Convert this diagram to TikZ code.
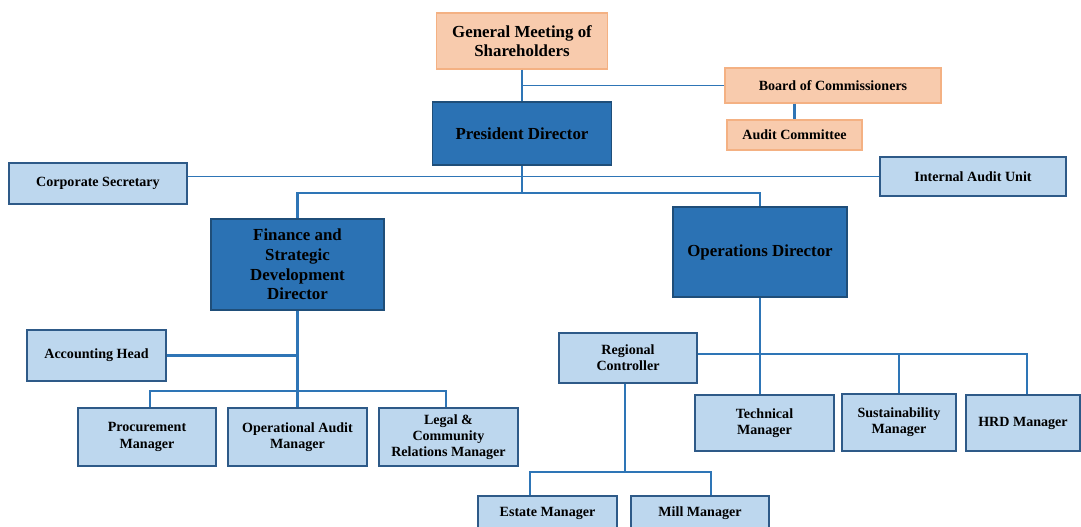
\documentclass[tikz,border=0pt]{standalone}
\usepackage{fontspec}
\setmainfont{Liberation Serif}
\usetikzlibrary{calc}
\definecolor{boxorange}{HTML}{F8CBAD}
\definecolor{boxorangeline}{HTML}{F4B183}
\definecolor{dirblue}{HTML}{2B72B4}
\definecolor{dirblueline}{HTML}{1F4E79}
\definecolor{unitblue}{HTML}{BDD7EE}
\definecolor{unitblueline}{HTML}{2E5A88}
\definecolor{linkblue}{HTML}{2E75B6}
\tikzset{
	bigtext/.style={font=\fontsize{12}{14}\selectfont\bfseries},
	smalltext/.style={font=\fontsize{10}{11.5}\selectfont\bfseries},
	topbox/.style={draw=boxorangeline, fill=boxorange, line width=0.8pt, align=center, inner sep=1pt},
	dirbox/.style={draw=dirblueline, fill=dirblue, line width=0.8pt, align=center, inner sep=1pt, bigtext},
	unitbox/.style={draw=unitblueline, fill=unitblue, line width=0.8pt, align=center, inner sep=1pt, smalltext},
	link/.style={draw=linkblue, line width=1.7pt},
	thinlink/.style={draw=linkblue, line width=1pt}
}

\begin{document}
\begin{tikzpicture}[x=0.025cm, y=-0.025cm]
		%%%%% START %%%%%
		\useasboundingbox (0, 0) rectangle (1081, 527);
		\begin{scope}
		\clip (0, 0) rectangle (1081, 527);
		
		\node[topbox, bigtext, minimum width=4.275cm, minimum height=1.4cm] (gms) at (522, 41) {General Meeting of\\Shareholders};
		\node[topbox, smalltext, minimum width=5.4cm, minimum height=0.875cm] (board) at (833, 85.5) {Board of Commissioners};
		\node[topbox, smalltext, minimum width=3.375cm, minimum height=0.75cm] (audit) at (794.5, 135) {Audit Committee};
		
		\node[dirbox, minimum width=4.475cm, minimum height=1.575cm] (pres) at (522, 133.5) {President Director};
		\node[unitbox, minimum width=4.45cm, minimum height=1.025cm] (corpsec) at (98, 183.5) {Corporate Secretary};
		\node[unitbox, minimum width=4.65cm, minimum height=0.975cm] (iau) at (973, 176.5) {Internal Audit Unit};
		
		\node[dirbox, minimum width=4.325cm, minimum height=2.275cm] (fin) at (297.5, 264.5) {Finance and\\Strategic\\Development\\Director};
		\node[dirbox, minimum width=4.35cm, minimum height=2.25cm] (ops) at (760, 252) {Operations Director};
		
		\node[unitbox, minimum width=3.475cm, minimum height=1.275cm] (acc) at (96.5, 355.5) {Accounting Head};
		\node[unitbox, minimum width=3.45cm, minimum height=1.45cm] (proc) at (147, 437) {Procurement\\Manager};
		\node[unitbox, minimum width=3.475cm, minimum height=1.45cm] (opaudit) at (297.5, 437) {Operational Audit\\Manager};
		\node[unitbox, minimum width=3.475cm, minimum height=1.45cm] (legal) at (448.5, 437) {Legal \&\\Community\\Relations Manager};
		
		\node[unitbox, minimum width=3.45cm, minimum height=1.25cm] (reg) at (628, 358) {Regional\\Controller};
		\node[unitbox, minimum width=3.475cm, minimum height=1.4cm] (tech) at (764.5, 423) {Technical\\Manager};
		\node[unitbox, minimum width=2.85cm, minimum height=1.425cm] (sust) at (899, 422.5) {Sustainability\\Manager};
		\node[unitbox, minimum width=2.85cm, minimum height=1.4cm] (hrd) at (1023, 423) {HRD Manager};
		\node[unitbox, minimum width=3.475cm, minimum height=0.85cm] (estate) at (547.5, 513) {Estate Manager};
		\node[unitbox, minimum width=3.45cm, minimum height=0.85cm] (mill) at (700, 513) {Mill Manager};
		
		\coordinate (pfork) at (522, 193);
		\coordinate (ffork) at (297.5, 391);
		\coordinate (ofork) at (760, 354);
		\coordinate (rfork) at (625, 472);
		
		% top
		\draw[link] (gms.south) -- (pres.north);
		\draw[thinlink] (gms.south |- board.west) -- (board.west);
		\draw[link] (audit.north |- board.south) -- (audit.north);
		\draw[thinlink] (corpsec.east |- iau.west) -- (iau.west);
		
		% directors
		\draw[link] (pres.south) -- (pfork);
		\draw[link] (fin.north) |- (pfork) -| (ops.north);
		
		% finance side
		\draw[link] (fin.south) -- (opaudit.north);
		\draw[link] (acc.east) -- (acc.east -| fin.south);
		\draw[link] ([xshift=0.075cm]proc.north) |- (ffork) -| ([xshift=-0.06cm]legal.north);
		
		% operations side
		\draw[link] (ops.south) -- (ops.south |- tech.north);
		\draw[link] (reg.east |- ofork) -- (ofork) -| ([xshift=0.1cm]hrd.north);
		\draw[link] (ofork -| sust.north) -- (sust.north);
		\draw[link] (rfork |- reg.south) -- (rfork);
		\draw[link] ([xshift=-0.44cm]estate.north) |- (rfork) -| ([xshift=0.28cm]mill.north);
		\end{scope}
		
		%%%%% END %%%%%
	\end{tikzpicture}
\end{document}
